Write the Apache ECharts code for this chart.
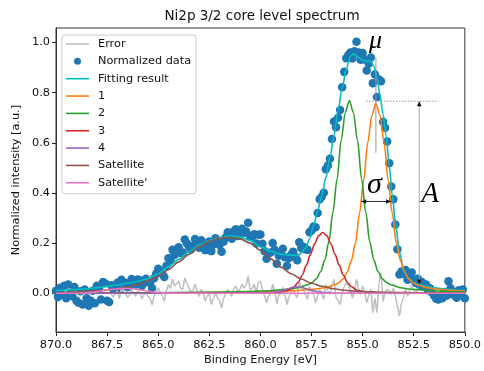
<!DOCTYPE html>
<html>
<head>
<meta charset="utf-8">
<title>Ni2p 3/2 core level spectrum</title>
<script src="https://cdn.jsdelivr.net/npm/echarts@6.0.0/dist/echarts.min.js"></script>
<style>
  html, body { margin: 0; padding: 0; background: #fff; }
  #main { width: 484px; height: 371px; }
</style>
</head>
<body>
<div id="main"></div>
<script>
// measured spectrum, 0.1 eV steps from 870.0 eV down to 850.0 eV
var dataStart = 870.0, dataStep = -0.1;
var dataV = [
  0.01, -0.015, 0.022, -0.005, 0.03, -0.02, 0.035, 0.0, -0.012, 0.025,
  -0.03, -0.038, 0.008, -0.045, 0.015, -0.02, -0.05, -0.03, 0.01, -0.04,
  0.03, 0.02, -0.025, 0.045, 0.04, -0.03, -0.035, 0.032, 0.016, 0.028,
  0.042, 0.014, 0.054, 0.043, 0.041, 0.024, 0.033, 0.057, 0.045, 0.035,
  0.055, 0.052, 0.029, 0.047, 0.058, 0.044, 0.042, 0.021, 0.06, 0.078,
  0.098, 0.09, 0.077, 0.065, 0.11, 0.14, 0.132, 0.173, 0.153, 0.167,
  0.183, 0.161, 0.163, 0.214, 0.199, 0.187, 0.174, 0.188, 0.216, 0.197,
  0.181, 0.211, 0.201, 0.172, 0.196, 0.206, 0.168, 0.195, 0.219, 0.202,
  0.192, 0.166, 0.205, 0.222, 0.243, 0.233, 0.217, 0.247, 0.255, 0.228,
  0.243, 0.257, 0.241, 0.246, 0.281, 0.225, 0.225, 0.235, 0.198, 0.233,
  0.234, 0.197, 0.168, 0.138, 0.159, 0.163, 0.2, 0.173, 0.118, 0.15,
  0.158, 0.177, 0.144, 0.11, 0.141, 0.154, 0.166, 0.145, 0.132, 0.203,
  0.18, 0.185, 0.175, 0.173, 0.243, 0.25, 0.266, 0.263, 0.32, 0.375,
  0.385, 0.401, 0.495, 0.51, 0.536, 0.615, 0.685, 0.662, 0.7, 0.731,
  0.822, 0.883, 0.937, 0.95, 0.96, 0.936, 0.965, 1.003, 0.96, 0.931,
  0.958, 0.932, 0.888, 0.915, 0.94, 0.838, 0.873, 0.783, 0.853, 0.846,
  0.684, 0.66, 0.605, 0.519, 0.426, 0.375, 0.274, 0.175, 0.075, 0.087,
  0.077, 0.093, 0.054, 0.066, 0.083, 0.054, 0.041, 0.058, 0.03, 0.045,
  0.028, 0.035, 0.012, 0.02, 0.002, -0.01, -0.022, -0.025, -0.012, -0.02,
  0.005, -0.01, 0.048, 0.02, -0.005, 0.002, -0.018, 0.012, -0.008, 0.015,
  -0.02
];

// residual (data - fit), 0.1 eV steps from 867.3 eV down to 852.3 eV
var errStart = 867.3, errStep = -0.1;
var errV = [
  0.002, -0.015, -0.004, 0.009, -0.02, 0.018, 0.006, 0.002, -0.016, -0.008,
  0.014, 0.001, -0.011, 0.008, 0.003, -0.022, -0.006, 0.002, -0.014, -0.02,
  -0.045, -0.01, 0.004, 0.02, 0.006, -0.012, -0.03, 0.01, 0.034, 0.02,
  0.055, 0.03, 0.038, 0.048, 0.02, 0.016, 0.061, 0.04, 0.022, 0.004,
  0.012, 0.035, 0.01, -0.011, 0.015, 0.002, -0.031, -0.01, -0.004, -0.044,
  -0.02, 0.002, -0.018, -0.03, -0.057, -0.02, -0.004, 0.015, 0.004, -0.011,
  0.02, 0.028, 0.002, 0.018, 0.035, 0.022, 0.03, 0.068, 0.015, 0.02,
  0.035, 0.002, 0.042, 0.048, 0.015, -0.01, -0.037, -0.012, -0.004, 0.035,
  0.01, -0.042, -0.008, 0.002, 0.022, -0.01, -0.044, -0.012, 0.002, 0.015,
  -0.005, -0.018, 0.048, 0.02, 0.015, -0.005, -0.024, 0.028, 0.008, -0.004,
  -0.037, -0.01, 0.015, -0.005, -0.024, 0.035, 0.01, -0.004, 0.03, 0.055,
  -0.018, -0.03, -0.044, 0.002, 0.025, 0.042, 0.03, 0.015, -0.018, 0.01,
  0.055, 0.02, -0.004, 0.028, 0.005, -0.037, -0.01, 0.015, -0.077, -0.02,
  -0.077, 0.04, 0.081, -0.031, 0.005, 0.015, 0.009, -0.004, 0.02, -0.011,
  -0.05, -0.09, -0.04, -0.018, 0.015, -0.011, 0.01, 0.035, 0.012, 0.002,
  0.022
];

// fitting envelope
var fitE = [870, 869.5, 869, 868.5, 868, 867.5, 867, 866.5, 866, 865.5,
  865, 864.5, 864, 863.5, 863, 862.5, 862, 861.5, 861, 860.5,
  860, 859.5, 859, 858.5, 858.2, 858, 857.8, 857.6, 857.4, 857.2,
  857, 856.8, 856.6, 856.4, 856.2, 856, 855.8, 855.6, 855.45, 855.2,
  855, 854.8, 854.6, 854.45, 854.3, 854.15, 854, 853.85, 853.7, 853.55,
  853.4, 853.2, 853, 852.8, 852.5, 852.2, 851.5, 851, 850.5, 850];
var fitV = [0.011, 0.013, 0.015, 0.018, 0.022, 0.028, 0.033, 0.04, 0.047, 0.058,
  0.078, 0.106, 0.135, 0.165, 0.192, 0.21, 0.222, 0.229, 0.225, 0.21,
  0.186, 0.167, 0.156, 0.152, 0.15, 0.16, 0.18, 0.215, 0.27, 0.33,
  0.39, 0.46, 0.54, 0.63, 0.73, 0.82, 0.895, 0.945, 0.956, 0.94,
  0.93, 0.925, 0.925, 0.905, 0.86, 0.79, 0.715, 0.625, 0.51, 0.39,
  0.285, 0.165, 0.095, 0.065, 0.042, 0.033, 0.022, 0.017, 0.013, 0.011];

// fitted components, [energy, intensity]
var peak1 = [[870,0.001],[865,0.002],[861,0.004],[859.4,0.007],[858.4,0.01],[857.4,0.016],
  [856.85,0.022],[856.35,0.034],[856.15,0.043],[855.95,0.058],[855.75,0.085],[855.55,0.13],
  [855.35,0.2],[855.15,0.32],[854.95,0.45],[854.75,0.6],[854.55,0.71],[854.35,0.758],
  [854.15,0.71],[853.95,0.6],[853.75,0.45],[853.55,0.32],[853.35,0.2],[853.15,0.13],
  [852.95,0.085],[852.75,0.058],[852.55,0.043],[852.35,0.034],[851.85,0.022],[851.35,0.016],
  [850.35,0.01],[850,0.009]];
var peak2 = [[870,0.001],[865.65,0.002],[862.65,0.004],[860.65,0.007],[859.65,0.01],[858.65,0.016],
  [858.15,0.022],[857.65,0.035],[857.45,0.044],[857.25,0.059],[857.05,0.087],[856.85,0.132],
  [856.65,0.205],[856.45,0.325],[856.25,0.455],[856.05,0.61],[855.85,0.72],[855.65,0.769],
  [855.45,0.72],[855.25,0.61],[855.05,0.455],[854.85,0.325],[854.65,0.205],[854.45,0.132],
  [854.25,0.087],[854.05,0.059],[853.85,0.044],[853.65,0.035],[853.15,0.022],[852.65,0.016],
  [851.65,0.01],[850.65,0.007],[850,0.006]];
var peak3 = [[870,0],[859.95,0],[859.15,0.003],[858.65,0.011],[858.35,0.026],[858.15,0.044],
  [857.95,0.073],[857.75,0.112],[857.55,0.155],[857.35,0.197],[857.15,0.23],[856.95,0.242],
  [856.75,0.23],[856.55,0.197],[856.35,0.155],[856.15,0.112],[855.95,0.073],[855.75,0.044],
  [855.55,0.026],[855.25,0.011],[854.75,0.003],[853.95,0],[850,0]];
var peak4 = [[870,0],[860.2,0],[859.6,0.002],[859.2,0.006],[858.9,0.011],[858.6,0.019],
  [858.4,0.024],[858.2,0.026],[858.0,0.024],[857.8,0.019],[857.5,0.011],[857.2,0.006],
  [856.8,0.002],[856.2,0],[850,0]];
var satellite = [[870,0.002],[869,0.005],[868,0.01],[867,0.018],[866.5,0.025],[866,0.035],
  [865.5,0.05],[865,0.068],[864.5,0.094],[864,0.125],[863.5,0.155],[863,0.185],[862.5,0.207],
  [862,0.22],[861.5,0.223],[861,0.217],[860.5,0.2],[860,0.172],[859.5,0.137],[859,0.104],
  [858.5,0.078],[858,0.057],[857.5,0.04],[857,0.028],[856.5,0.019],[856,0.013],[855.5,0.009],
  [855,0.007],[854,0.004],[852,0.002],[850,0.001]];
var satellite2 = [[870,0],[869,0],[868.6,0.001],[868.2,0.004],[867.8,0.009],[867.4,0.014],
  [867,0.018],[866.6,0.019],[866.2,0.018],[865.8,0.013],[865.4,0.007],[865,0.003],
  [864.5,0.001],[864,0],[850,0]];

var yTicks = [0, 0.2, 0.4, 0.6, 0.8, 1.0];

// annotation anchors (data coordinates)
var muE = 854.35, muTop = 0.94, muBottom = 0.56;
var ampV = 0.766, ampLineEnd = 851.3, ampE = 852.23, ampBottom = 0.035;
var sigV = 0.366, sigLeft = 855.07, sigRight = 853.61;

var font = 'DejaVu Sans';
var ink = '#111';
// legend handles: a short line, and a small dot, inside a 23x14 box
var lineIcon = 'path://M0,0h0M0,6.2h23v1.6h-23zM23,14h0';
var dotIcon = 'path://M0,0h0M23,14h0M15,7a3.5,3.5 0 1,0 -7,0a3.5,3.5 0 1,0 7,0z';

var scatterData = dataV.map(function (v, i) {
  return [+(dataStart + i * dataStep).toFixed(1), v];
});
var errData = errV.map(function (v, i) {
  return [+(errStart + i * errStep).toFixed(1), v];
});
var fitData = fitE.map(function (e, i) { return [e, fitV[i]]; });

function lineSeries(name, data, color, z) {
  return {
    name: name, type: 'line', data: data, symbol: 'none', z: z,
    smooth: 0.3, smoothMonotone: 'x',
    lineStyle: { color: color, width: 1.6 },
    itemStyle: { color: color }
  };
}

var myChart = echarts.init(document.getElementById('main'));
var option = {
  animation: false,
  backgroundColor: '#fff',
  title: {
    text: 'Ni2p 3/2 core level spectrum',
    left: 262, top: 9, textAlign: 'center', padding: 0,
    textStyle: { fontFamily: font, fontSize: 13.5, fontWeight: 'normal', color: ink }
  },
  grid: {
    left: 56, right: 16, top: 28, bottom: 36,
    show: true, borderColor: '#333', borderWidth: 1, backgroundColor: 'transparent'
  },
  legend: {
    orient: 'vertical', left: 62, top: 35,
    padding: [2, 5, 4, 4],
    itemWidth: 23, itemHeight: 14, itemGap: 3.35,
    backgroundColor: 'rgba(255,255,255,0.8)',
    borderColor: '#cccccc', borderWidth: 1, borderRadius: 3,
    selectedMode: false,
    textStyle: { fontFamily: font, fontSize: 11.3, color: ink, lineHeight: 14, padding: [0, 0, 0, 4] },
    data: [
      { name: 'Error', icon: lineIcon },
      { name: 'Normalized data', icon: dotIcon },
      { name: 'Fitting result', icon: lineIcon },
      { name: '1', icon: lineIcon },
      { name: '2', icon: lineIcon },
      { name: '3', icon: lineIcon },
      { name: '4', icon: lineIcon },
      { name: 'Satellite', icon: lineIcon },
      { name: "Satellite'", icon: lineIcon }
    ]
  },
  xAxis: {
    type: 'value', min: 850, max: 870, interval: 2.5, inverse: true,
    name: 'Binding Energy [eV]', nameLocation: 'middle', nameGap: 22,
    nameTextStyle: { fontFamily: font, fontSize: 11.3, color: ink, verticalAlign: 'top' },
    axisLine: { show: true, onZero: false, lineStyle: { color: '#333', width: 1 } },
    axisTick: { show: true, inside: false, length: 4, lineStyle: { color: '#222', width: 1 } },
    axisLabel: {
      margin: 7, fontFamily: font, fontSize: 11.3, color: ink,
      formatter: function (v) { return v.toFixed(1); }
    },
    splitLine: { show: false }
  },
  yAxis: {
    type: 'value', min: -0.155, max: 1.058,
    name: 'Normalized intensity [a.u.]', nameLocation: 'middle', nameGap: 32,
    nameTextStyle: { fontFamily: font, fontSize: 11.3, color: ink },
    axisLine: { show: true, onZero: false, lineStyle: { color: '#333', width: 1 } },
    axisTick: { show: true, length: 4, customValues: yTicks, lineStyle: { color: '#222', width: 1 } },
    axisLabel: {
      margin: 6, fontFamily: font, fontSize: 11.3, color: ink, customValues: yTicks,
      formatter: function (v) { return v.toFixed(1); }
    },
    splitLine: { show: false }
  },
  series: [
    lineSeries('Error', errData, '#c0c0c0', 3),
    {
      name: 'Normalized data', type: 'scatter', data: scatterData, z: 2,
      symbolSize: 8.5, itemStyle: { color: '#1f77b4', opacity: 1 }
    },
    lineSeries('Fitting result', fitData, '#00bfbf', 4),
    lineSeries('1', peak1, '#ff7f0e', 5),
    lineSeries('2', peak2, '#2ca02c', 6),
    lineSeries('3', peak3, '#d62728', 7),
    lineSeries('4', peak4, '#9467bd', 8),
    lineSeries('Satellite', satellite, '#8c564b', 9),
    lineSeries("Satellite'", satellite2, '#e377c2', 10)
  ]
};
myChart.setOption(option);

// annotations: mu, sigma, A
function px(e, v) { return myChart.convertToPixel({ gridIndex: 0 }, [e, v]); }
function head(tip, dir) {
  var l = 5, w = 2.3, x = tip[0], y = tip[1];
  if (dir === 'up') return [[x, y], [x - w, y + l], [x + w, y + l]];
  if (dir === 'down') return [[x, y], [x - w, y - l], [x + w, y - l]];
  if (dir === 'left') return [[x, y], [x + l, y - w], [x + l, y + w]];
  return [[x, y], [x - l, y - w], [x - l, y + w]];
}
function seg(a, b, color, dash) {
  return {
    type: 'line', z: 100,
    shape: { x1: a[0], y1: a[1], x2: b[0], y2: b[1] },
    style: { stroke: color, lineWidth: 1, lineDash: dash || null }
  };
}
function tri(pts) {
  return { type: 'polygon', z: 101, shape: { points: pts }, style: { fill: '#111' } };
}
function label(t, p, size) {
  return {
    type: 'text', z: 102, x: p[0], y: p[1],
    style: {
      text: t, fill: '#000', align: 'center', verticalAlign: 'middle',
      fontFamily: 'Liberation Serif', fontStyle: 'italic', fontSize: size
    }
  };
}

var muA = px(muE, muTop), muB = px(muE, muBottom);
var dotA = px(muE, ampV), dotB = px(ampLineEnd, ampV);
var ampA = px(ampE, ampV), ampB = px(ampE, ampBottom);
var sigA = px(sigLeft, sigV), sigB = px(sigRight, sigV);

myChart.setOption({
  graphic: [
    seg(muA, muB, '#999'),
    seg([dotA[0] - 10, dotA[1]], dotB, '#999', [1.5, 1.5]),
    seg(ampA, ampB, '#aaa'),
    tri(head(ampA, 'up')),
    tri(head(ampB, 'down')),
    seg(sigA, sigB, '#333'),
    tri(head(sigA, 'left')),
    tri(head(sigB, 'right')),
    label('μ', px(854.37, 1.007), 26),
    label('σ', px(854.42, 0.43), 30),
    label('A', px(851.7, 0.394), 29)
  ]
});
</script>
</body>
</html>
